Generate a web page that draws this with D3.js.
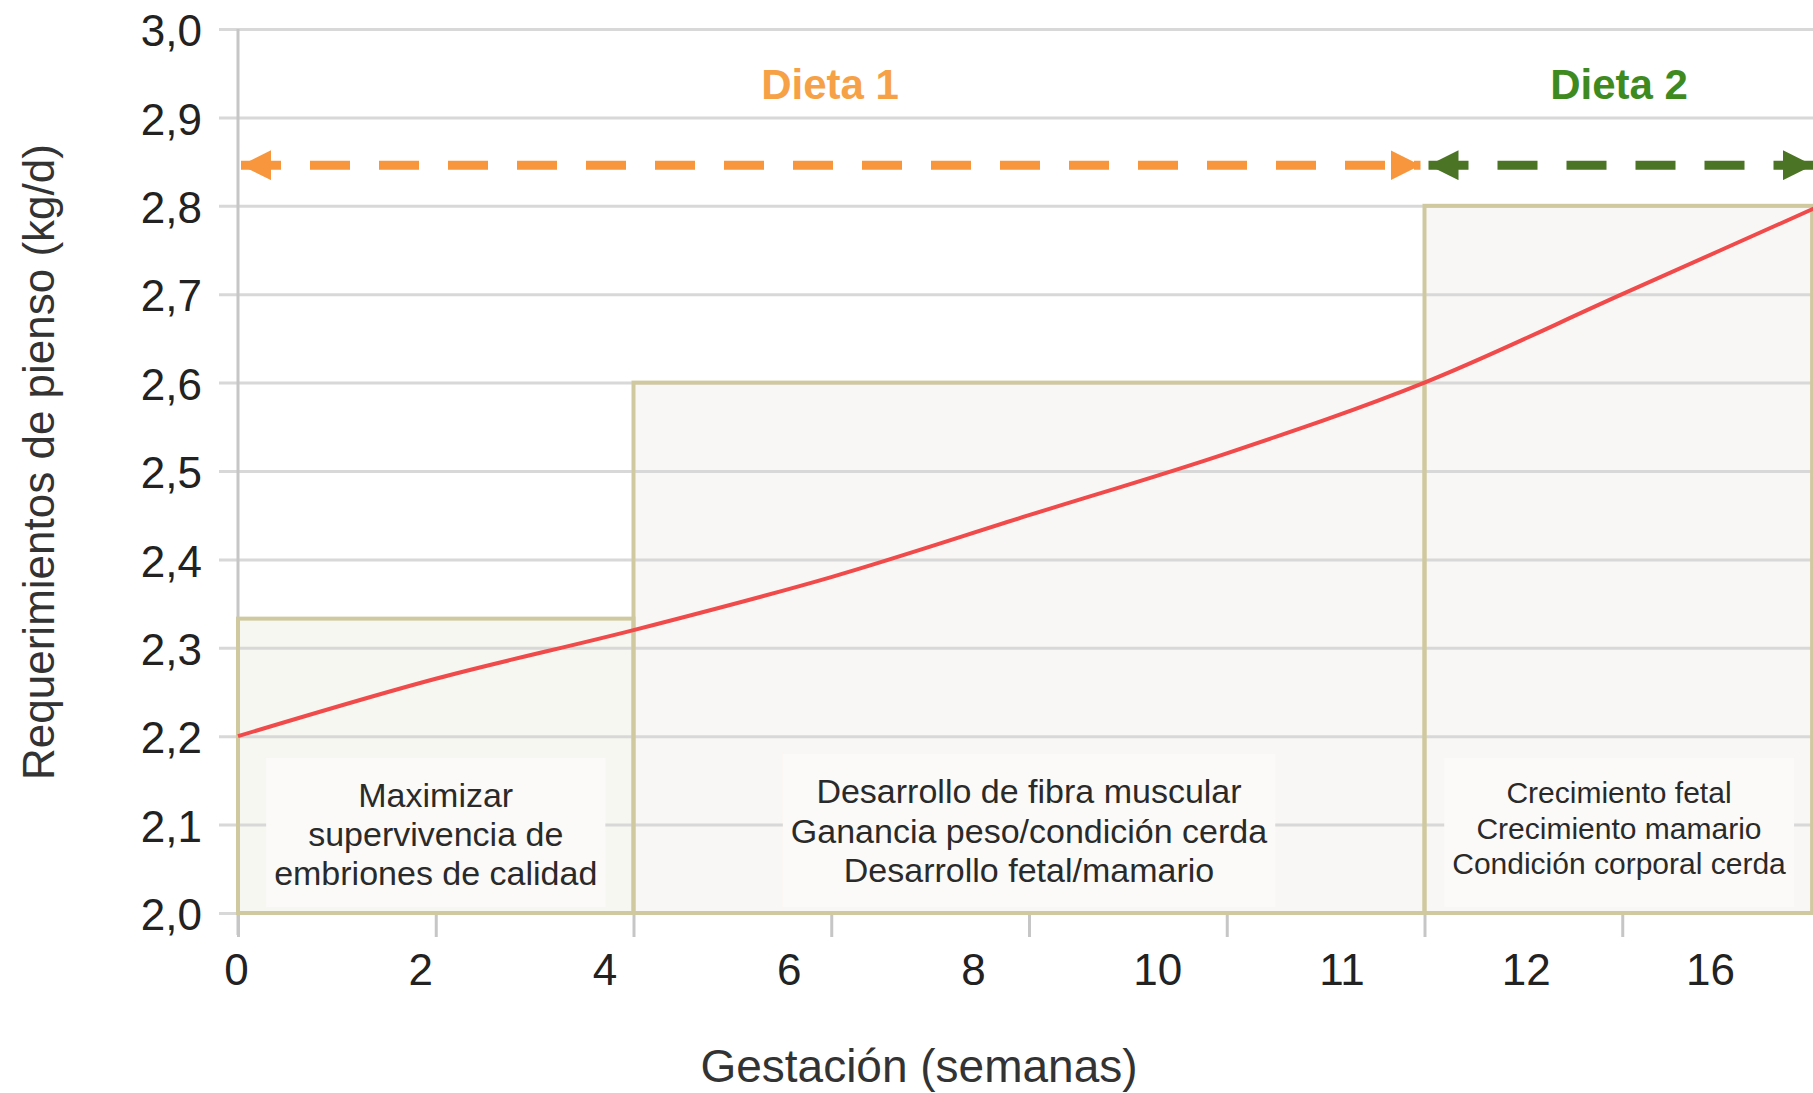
<!DOCTYPE html>
<html>
<head>
<meta charset="utf-8">
<script src="https://cdn.jsdelivr.net/npm/d3@7"></script>
<style>
  html, body { margin: 0; padding: 0; background: #fff; overflow: hidden; }
  text { font-family: "Liberation Sans", Arial, sans-serif; }
</style>
</head>
<body>
<div id="chart"></div>
<script>
(function() {
  'use strict';

  // week positions on the axis (evenly spaced) and the labels printed under them
  var weekIndex = [0, 1, 2, 3, 4, 5, 6, 7, 8];
  var weekLabels = ['0', '2', '4', '6', '8', '10', '11', '12', '16'];
  var feedReq = [2.2, 2.265, 2.32, 2.38, 2.45, 2.52, 2.6, 2.7, 2.8];

  var yTicks = [2.0, 2.1, 2.2, 2.3, 2.4, 2.5, 2.6, 2.7, 2.8, 2.9, 3.0];

  // gestation phases (boxes)
  var phaseStart = [0, 2, 6];
  var phaseEnd = [2, 6, 7.96];
  var phaseTop = [2.333, 2.6, 2.8];
  var phaseText = [
    ['Maximizar', 'supervivencia de', 'embriones de calidad'],
    ['Desarrollo de fibra muscular', 'Ganancia peso/condición cerda', 'Desarrollo fetal/mamario'],
    ['Crecimiento fetal', 'Crecimiento mamario', 'Condición corporal cerda']
  ];

  // diets
  var dietNames = ['Dieta 1', 'Dieta 2'];
  var dietStart = [0, 6];
  var dietEnd = [6, 8];
  var dietLevel = 2.846;

  var svgW = 1813,
    svgH = 1093;

  var plotLeft = 238,
    plotRight = 1820,
    plotTop = 29,
    plotBottom = 913;

  var phaseFill = ['#f7f7f1', '#f9f7f5', '#f9f7f5'];
  var phaseTextSize = [34, 34, 30];
  var phaseLineGap = [39, 39.5, 35.5];
  var dietArrowColor = ['#f7963c', '#4b7524'];
  var dietTextColor = ['#f7a147', '#3f8a1e'];

  var svg = d3.select('#chart')
    .append('svg')
    .attr('width', svgW)
    .attr('height', svgH);

  var x = d3.scaleLinear()
    .domain([0, 8])
    .range([plotLeft, plotRight]);

  // the printed labels sit on their own, slightly tighter spacing
  var xLabel = d3.scalePoint()
    .domain(weekLabels)
    .range([236, 1710]);

  var y = d3.scaleLinear()
    .domain([2.0, 3.0])
    .range([plotBottom, plotTop]);

  // phase box fills
  svg.selectAll('rect.phase-fill')
    .data(phaseStart)
    .enter()
    .append('rect')
    .attr('class', 'phase-fill')
    .attr('x', function(d) { return x(d); })
    .attr('y', function(d, i) { return y(phaseTop[i]); })
    .attr('width', function(d, i) { return x(phaseEnd[i]) - x(d); })
    .attr('height', function(d, i) { return y(2.0) - y(phaseTop[i]); })
    .attr('fill', function(d, i) { return phaseFill[i]; });

  // horizontal grid
  svg.append('g')
    .attr('transform', 'translate(' + plotLeft + ',0)')
    .call(d3.axisLeft(y)
      .tickValues(yTicks)
      .tickSize(-(svgW - plotLeft))
      .tickFormat(''))
    .call(function(g) {
      g.select('.domain').remove();
      g.selectAll('.tick line')
        .attr('x1', -19)
        .attr('stroke', '#d8d8d8')
        .attr('stroke-width', 3);
    });

  // y axis labels
  svg.append('g')
    .attr('transform', 'translate(' + (plotLeft - 36) + ',0)')
    .call(d3.axisLeft(y)
      .tickValues(yTicks)
      .tickSize(0)
      .tickFormat(function(d) { return d3.format('.1f')(d).replace('.', ','); }))
    .call(function(g) {
      g.select('.domain').remove();
      g.selectAll('.tick text')
        .attr('x', 0)
        .attr('dy', '0.38em')
        .attr('font-size', 44)
        .attr('fill', '#222');
    });

  // y axis line
  svg.append('line')
    .attr('x1', plotLeft)
    .attr('x2', plotLeft)
    .attr('y1', plotTop)
    .attr('y2', plotBottom + 22)
    .attr('stroke', '#c6c6c6')
    .attr('stroke-width', 3);

  // x axis tick marks
  svg.append('g')
    .attr('transform', 'translate(0,' + plotBottom + ')')
    .call(d3.axisBottom(x)
      .tickValues(weekIndex)
      .tickSize(24)
      .tickFormat(''))
    .call(function(g) {
      g.select('.domain').remove();
      g.selectAll('.tick line')
        .attr('stroke', '#c6c6c6')
        .attr('stroke-width', 3);
    });

  // x axis labels
  svg.append('g')
    .attr('transform', 'translate(0,' + plotBottom + ')')
    .call(d3.axisBottom(xLabel)
      .tickSize(0)
      .tickPadding(0))
    .call(function(g) {
      g.select('.domain').remove();
      g.selectAll('.tick text')
        .attr('y', 72)
        .attr('dy', 0)
        .attr('font-size', 44)
        .attr('fill', '#222');
    });

  // text blocks inside the boxes, with a faint backing
  var phaseGroups = svg.selectAll('g.phase-text')
    .data(phaseText)
    .enter()
    .append('g')
    .attr('class', 'phase-text');

  var firstBaseline = [807, 803, 803];

  phaseGroups.each(function(lines, i) {
    var g = d3.select(this);
    var cx = (x(phaseStart[i]) + Math.min(x(phaseEnd[i]), svgW)) / 2;
    if (i === 2) cx = 1619;
    var bg = g.append('rect');
    var txt = g.append('text')
      .attr('text-anchor', 'middle')
      .attr('font-family', '"DejaVu Sans", sans-serif')
      .attr('font-size', phaseTextSize[i])
      .attr('fill', '#2a2a2a');
    txt.selectAll('tspan')
      .data(lines)
      .enter()
      .append('tspan')
      .attr('x', cx)
      .attr('y', function(d, j) { return firstBaseline[i] + j * phaseLineGap[i]; })
      .text(function(d) { return d; });
    var bb = txt.node().getBBox();
    bg.attr('x', bb.x - 8)
      .attr('y', bb.y - 18)
      .attr('width', bb.width + 16)
      .attr('height', y(2.0) - (bb.y - 18) - 6)
      .attr('fill', '#fbfaf8');
  });

  // phase box outlines
  svg.selectAll('rect.phase-box')
    .data(phaseStart)
    .enter()
    .append('rect')
    .attr('class', 'phase-box')
    .attr('x', function(d) { return x(d); })
    .attr('y', function(d, i) { return y(phaseTop[i]); })
    .attr('width', function(d, i) { return x(phaseEnd[i]) - x(d); })
    .attr('height', function(d, i) { return y(2.0) - y(phaseTop[i]); })
    .attr('fill', 'none')
    .attr('stroke', '#d0c9a0')
    .attr('stroke-width', 4);

  // feed requirement curve
  var line = d3.line()
    .x(function(d, i) { return x(weekIndex[i]); })
    .y(function(d) { return y(d); })
    .curve(d3.curveMonotoneX);

  svg.append('path')
    .datum(feedReq)
    .attr('d', line)
    .attr('fill', 'none')
    .attr('stroke', '#f04a4a')
    .attr('stroke-width', 4);

  // diet arrows
  var defs = svg.append('defs');
  dietNames.forEach(function(name, i) {
    defs.append('marker')
      .attr('id', 'head' + i)
      .attr('viewBox', '0 0 10 10')
      .attr('refX', 10)
      .attr('refY', 5)
      .attr('markerWidth', 30)
      .attr('markerHeight', 30)
      .attr('markerUnits', 'userSpaceOnUse')
      .attr('orient', 'auto-start-reverse')
      .append('path')
      .attr('d', 'M0,0L10,5L0,10Z')
      .attr('fill', dietArrowColor[i]);
  });

  var dietY = y(dietLevel);

  svg.selectAll('line.diet')
    .data(dietNames)
    .enter()
    .append('line')
    .attr('class', 'diet')
    .attr('x1', function(d, i) { return x(dietStart[i]) + (i === 0 ? 3 : 4); })
    .attr('x2', function(d, i) { return i === 0 ? x(dietEnd[i]) - 4 : svgW; })
    .attr('y1', dietY)
    .attr('y2', dietY)
    .attr('stroke', function(d, i) { return dietArrowColor[i]; })
    .attr('stroke-width', 9)
    .attr('stroke-dasharray', '40,29')
    .attr('marker-start', function(d, i) { return 'url(#head' + i + ')'; })
    .attr('marker-end', function(d, i) { return 'url(#head' + i + ')'; });

  svg.selectAll('text.diet')
    .data(dietNames)
    .enter()
    .append('text')
    .attr('class', 'diet')
    .attr('x', function(d, i) { return i === 0 ? 830 : 1619; })
    .attr('y', 99)
    .attr('text-anchor', 'middle')
    .attr('font-size', 42)
    .attr('font-weight', 'bold')
    .attr('fill', function(d, i) { return dietTextColor[i]; })
    .text(function(d) { return d; });

  // axis titles
  svg.append('text')
    .attr('x', 919)
    .attr('y', 1082)
    .attr('text-anchor', 'middle')
    .attr('font-size', 46)
    .attr('fill', '#333')
    .text('Gestación (semanas)');

  svg.append('text')
    .attr('transform', 'translate(54,462) rotate(-90)')
    .attr('text-anchor', 'middle')
    .attr('font-size', 44)
    .attr('fill', '#333')
    .text('Requerimientos de pienso (kg/d)');

}());
</script>
</body>
</html>
